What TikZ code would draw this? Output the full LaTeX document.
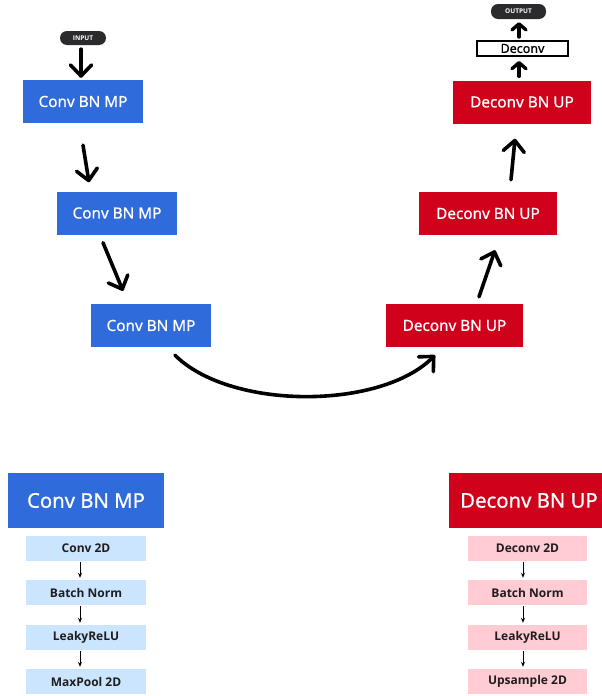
\documentclass[tikz,border=0pt]{standalone}
\usepackage{fontspec}
\setmainfont{Open Sans}
\newfontfamily\semib{Noto Sans}[UprightFeatures={FakeBold=0.7}]
\usetikzlibrary{arrows.meta,calc}
\definecolor{cblue}{HTML}{306BDB}
\definecolor{cred}{HTML}{D0021B}
\definecolor{lblue}{HTML}{CCE5FF}
\definecolor{lpink}{HTML}{FFCCD3}
\definecolor{pillc}{HTML}{2B2B2E}
\definecolor{txtc}{HTML}{1E1E1E}
\begin{document}
\begin{tikzpicture}[x=1pt,y=-1pt,
  bluebox/.style={rectangle,fill=cblue,text=white,inner sep=0pt,minimum width=120pt,minimum height=43pt,font=\semib\fontsize{15.3}{18}\selectfont},
  redbox/.style={rectangle,fill=cred,text=white,inner sep=0pt,minimum width=137pt,minimum height=43pt,font=\semib\fontsize{15.3}{18}\selectfont},
  bigblue/.style={rectangle,fill=cblue,text=white,inner sep=0pt,minimum width=156pt,minimum height=55pt,font=\semib\fontsize{20.3}{24}\selectfont},
  bigred/.style={rectangle,fill=cred,text=white,inner sep=0pt,minimum width=160pt,minimum height=55pt,font=\semib\fontsize{20.3}{24}\selectfont},
  subblue/.style={rectangle,fill=lblue,text=txtc,inner sep=0pt,minimum width=120pt,minimum height=25pt,font=\fontsize{12}{14}\selectfont\bfseries},
  subred/.style={rectangle,fill=lpink,text=txtc,inner sep=0pt,minimum width=119pt,minimum height=25pt,font=\fontsize{12}{14}\selectfont\bfseries},
  pill/.style={rectangle,rounded corners=7pt,fill=pillc,text=white,inner sep=0pt,font=\fontsize{6.5}{8}\selectfont\bfseries},
  decbox/.style={rectangle,draw=black,line width=2pt,fill=white,inner sep=0pt,minimum width=91pt,minimum height=15pt,font=\semib\fontsize{12.5}{14}\selectfont},
  bigarrow/.style={line width=3.6pt,line cap=round,-{Straight Barb[length=11pt,width=21pt,line width=3.6pt,round]}},
  smallarrow/.style={line width=3.4pt,line cap=round,-{Straight Barb[length=6pt,width=14pt,line width=3.4pt,round]}},
  thinarrow/.style={line width=1pt,-{Stealth[length=5pt,width=4pt]}}
]
\useasboundingbox (0,0) rectangle (602,696);

% top-left
\node[pill,minimum width=46pt,minimum height=14pt] (in) at (83,38) {INPUT};
\node[bluebox] (b1) at (83,101.5) {Conv BN MP};
\node[bluebox] (b2) at (117,213) {Conv BN MP};
\node[bluebox] (b3) at (151,325.5) {Conv BN MP};

% top-right
\node[pill,minimum width=55pt,minimum height=15pt] (out) at (518.5,11.5) {OUTPUT};
\node[decbox] (dec) at (522.5,48.5) {Deconv};
\node[redbox,minimum width=138pt] (r1) at (522,102) {Deconv BN UP};
\node[redbox,minimum width=138pt] (r2) at (488,213.5) {Deconv BN UP};
\node[redbox] (r3) at (454.5,325.5) {Deconv BN UP};

% arrows
\draw[bigarrow] ($(in.south)+(-2,4)$) -- ($(b1.north)+(-2,-2)$);
\draw[bigarrow] ($(b1.south)+(0,22)$) -- ($(b2.north)+(-28,-9)$);
\draw[bigarrow] ($(b2.south)+(-14,8)$) -- ($(b3.north)+(-28,-13)$);
\draw[bigarrow] ($(b3.south)+(24,8)$) .. controls (230,410) and (380,410) .. ($(r3.south)+(-19.5,8)$);
\draw[bigarrow] ($(r3.north)+(24.5,-7)$) -- ($(r2.south)+(7,15)$);
\draw[bigarrow] ($(r2.north)+(23,-12)$) -- ($(r1.south)+(-7,15)$);
\draw[smallarrow] ($(r1.north)+(-3,-4)$) -- ($(dec.south)+(-3.5,4)$);
\draw[smallarrow] ($(dec.north)+(-3.5,-3)$) -- ($(out.south)+(0.5,3)$);

% bottom-left legend
\node[bigblue] (lb) at (86,500.5) {Conv BN MP};
\node[subblue] (lb1) at (86,548.5) {Conv 2D};
\node[subblue] (lb2) at (86,592.5) {Batch Norm};
\node[subblue] (lb3) at (86,637.5) {LeakyReLU};
\node[subblue] (lb4) at (86,681.5) {MaxPool 2D};
\draw[thinarrow] ($(lb1.south)+(-6,1)$) -- ($(lb2.north)+(-6,-2)$);
\draw[thinarrow] ($(lb2.south)+(-6,1)$) -- ($(lb3.north)+(-6,-2)$);
\draw[thinarrow] ($(lb3.south)+(-6,1)$) -- ($(lb4.north)+(-6,-2)$);

% bottom-right legend
\node[bigred] (lr) at (529,500.5) {Deconv BN UP};
\node[subred] (lr1) at (527.5,548.5) {Deconv 2D};
\node[subred] (lr2) at (527.5,592.5) {Batch Norm};
\node[subred] (lr3) at (527.5,637.5) {LeakyReLU};
\node[subred] (lr4) at (527.5,681.5) {Upsample 2D};
\draw[thinarrow] ($(lr1.south)+(-4.5,1)$) -- ($(lr2.north)+(-4.5,-2)$);
\draw[thinarrow] ($(lr2.south)+(-4.5,1)$) -- ($(lr3.north)+(-4.5,-2)$);
\draw[thinarrow] ($(lr3.south)+(-4.5,1)$) -- ($(lr4.north)+(-4.5,-2)$);
\end{tikzpicture}
\end{document}
